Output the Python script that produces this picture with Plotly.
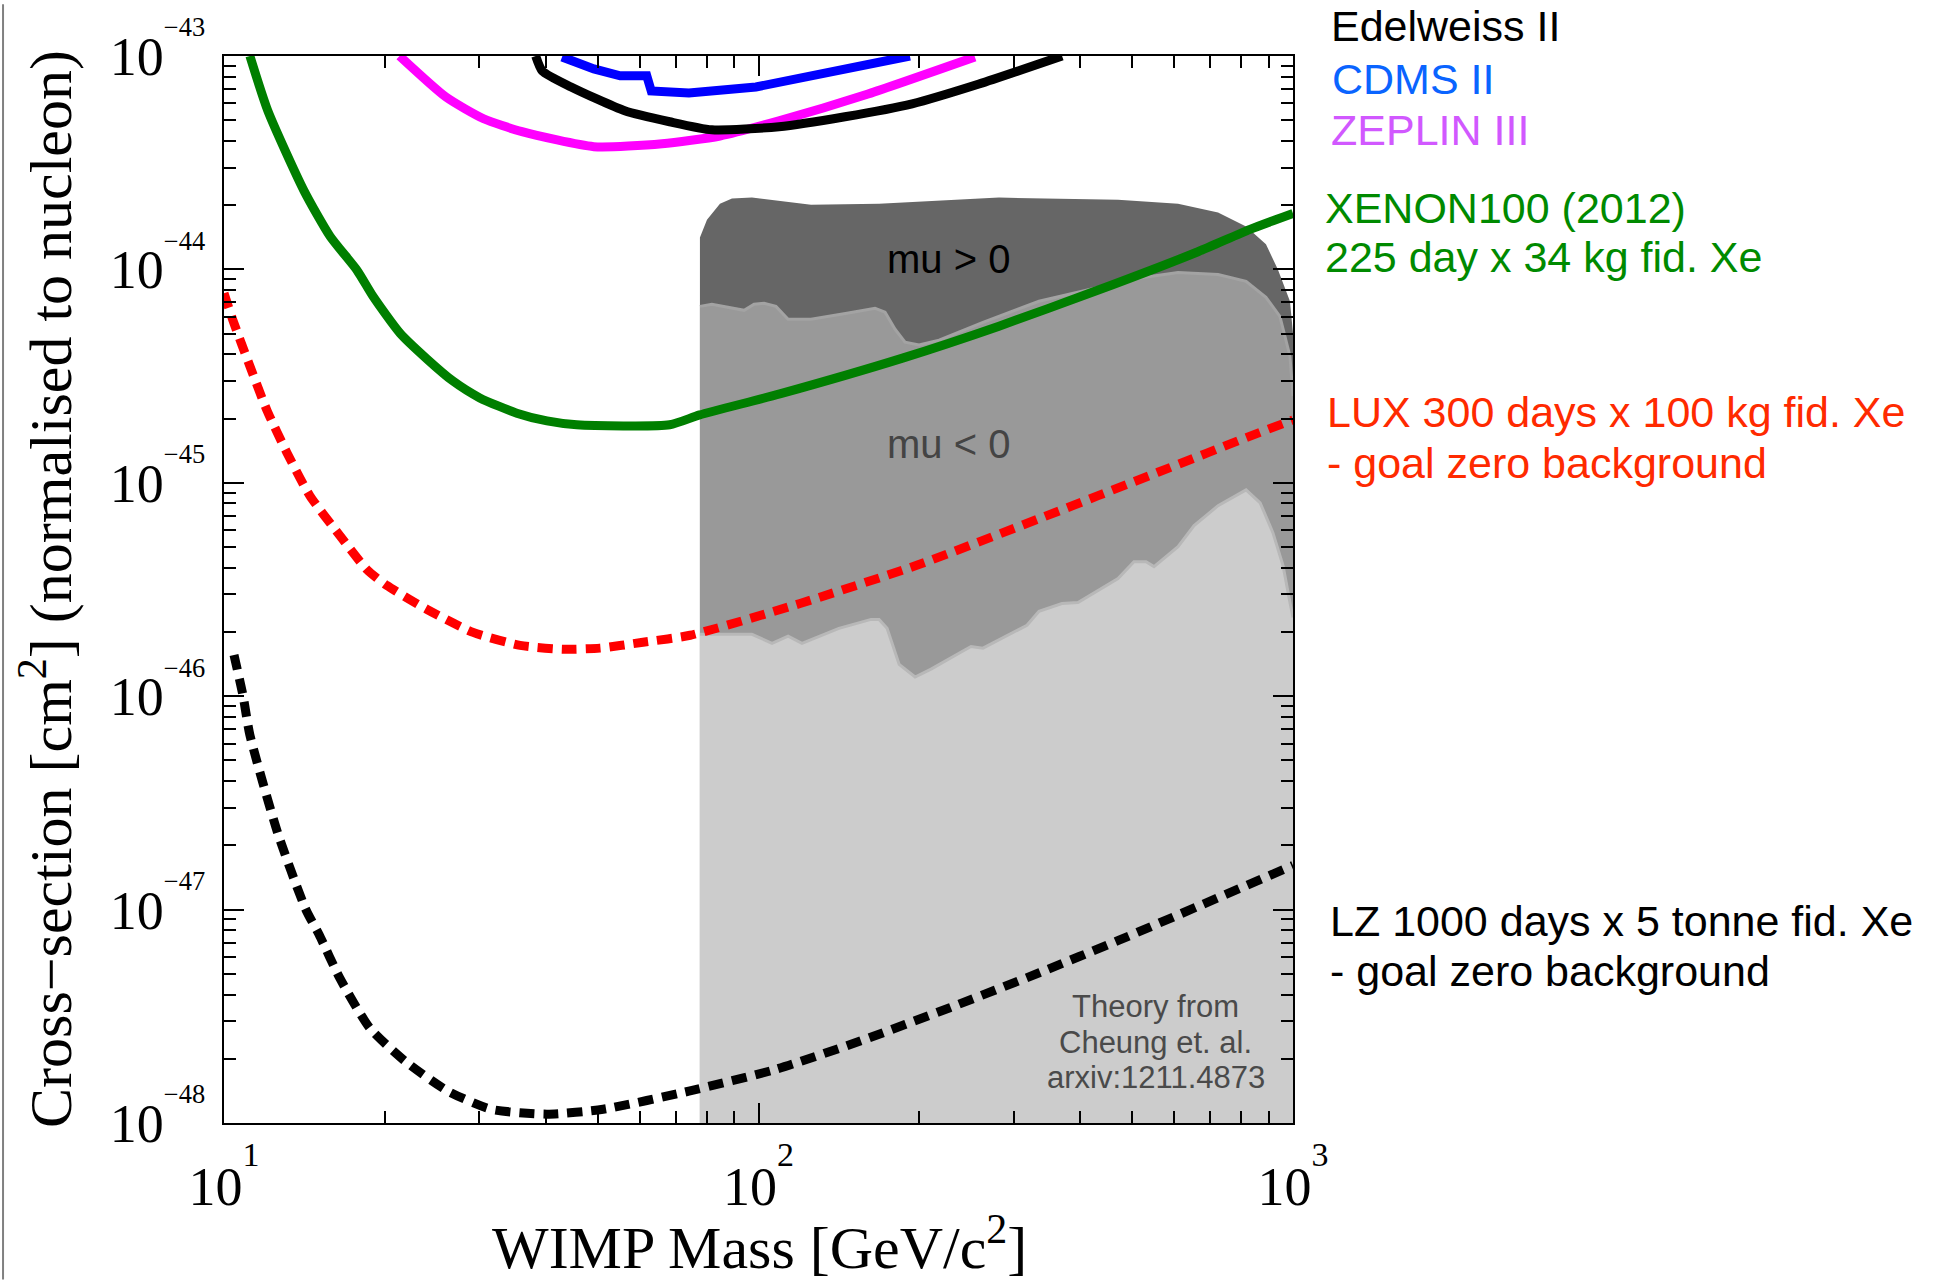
import plotly.graph_objects as go

# ---------------- data (WIMP mass in GeV/c^2, cross-section in cm^2) ----------------
MASS_EDELWEISS = [38.3, 39.4, 44.6, 56.2, 68.2, 81.8, 109.2, 145.1, 193.8, 258.5, 369.8]
SIGMA_EDELWEISS = [1.0e-43, 8.51e-44, 7.16e-44, 5.54e-44, 4.92e-44, 4.51e-44, 4.66e-44,
                   5.19e-44, 5.97e-44, 7.39e-44, 1.0e-43]

MASS_CDMS = [42.9, 49.2, 55.1, 61.8, 63.0, 74.1, 98.9, 132.0, 160.3, 192.0]
SIGMA_CDMS = [9.9e-44, 8.7e-44, 8.07e-44, 8.07e-44, 6.86e-44, 6.71e-44, 7.16e-44,
              8.24e-44, 9.18e-44, 1.0e-43]

MASS_ZEPLIN = [21.3, 26.0, 30.6, 36.1, 49.2, 66.0, 84.7, 109.2, 160.3, 254.0]
SIGMA_ZEPLIN = [1.0e-43, 6.43e-44, 5.08e-44, 4.42e-44, 3.76e-44, 3.88e-44, 4.22e-44,
                4.97e-44, 6.64e-44, 9.9e-44]

MASS_XENON = [11.18, 12.08, 14.11, 15.79, 17.74, 19.0, 21.35, 23.98, 26.8, 30.1, 35.3,
              40.2, 45.7, 68.2, 77.6, 109.6, 186.0, 281.8, 431.0, 664.0, 831.0, 1000.0]
SIGMA_XENON = [1.0e-43, 5.53e-44, 2.34e-44, 1.43e-44, 9.9e-45, 7.48e-45, 5.02e-45,
               3.8e-45, 3.0e-45, 2.5e-45, 2.12e-45, 1.95e-45, 1.87e-45, 1.87e-45,
               2.08e-45, 2.61e-45, 3.84e-45, 5.42e-45, 7.98e-45, 1.21e-44, 1.54e-44, 1.83e-44]

MASS_LUX = [10.0, 10.39, 11.18, 12.03, 13.12, 14.48, 16.48, 18.51, 20.18, 23.99, 29.25,
            35.8, 43.1, 50.5, 60.8, 74.5, 119.6, 199.5, 334.8, 558.8, 860.0, 1000.0]
SIGMA_LUX = [7.73e-45, 5.78e-45, 3.52e-45, 2.19e-45, 1.38e-45, 8.69e-46, 5.65e-46,
             3.92e-46, 3.30e-46, 2.55e-46, 1.99e-46, 1.73e-46, 1.66e-46, 1.68e-46,
             1.79e-46, 1.93e-46, 2.72e-46, 4.14e-46, 6.79e-46, 1.12e-45, 1.71e-45, 1.97e-45]

MASS_LZ = [10.44, 10.85, 11.18, 12.62, 14.23, 15.06, 16.48, 18.75, 21.81, 26.24, 31.6,
           40.2, 51.2, 74.1, 107.4, 155.6, 228.0, 336.0, 472.6, 664.0, 1000.0]
SIGMA_LZ = [1.56e-46, 1.01e-46, 6.58e-47, 2.26e-47, 1.0e-47, 7.64e-48, 4.76e-48,
            2.78e-48, 1.95e-48, 1.41e-48, 1.16e-48, 1.10e-48, 1.16e-48, 1.41e-48,
            1.78e-48, 2.43e-48, 3.47e-48, 5.07e-48, 7.19e-48, 1.035e-47, 1.61e-47]

# theory regions (Cheung et al.) - upper boundaries
MASS_MU_POS = [77.7, 80.1, 84.7, 89.2, 97.2, 125.4, 168.1, 281.8, 470.6, 609.4, 724.0,
               817.0, 890.0, 937.0, 987.0, 1000.0]
SIGMA_MU_POS = [1.41e-44, 1.71e-44, 2.03e-44, 2.15e-44, 2.17e-44, 2.01e-44, 2.03e-44,
                2.17e-44, 2.12e-44, 2.03e-44, 1.85e-44, 1.59e-44, 1.31e-44, 1.0e-44,
                7.09e-45, 5.02e-45]

MASS_MU_NEG = [77.7, 81.8, 94.0, 98.1, 102.4, 107.8, 113.6, 125.4, 146.4, 165.2, 172.5,
               180.1, 188.0, 199.7, 217.7, 263.0, 334.8, 431.7, 512.9, 609.4, 724.0,
               817.0, 890.0, 945.0, 987.0, 1000.0]
SIGMA_MU_NEG = [6.71e-45, 6.86e-45, 6.43e-45, 6.86e-45, 6.94e-45, 6.71e-45, 5.84e-45,
                5.84e-45, 6.23e-45, 6.57e-45, 6.30e-45, 5.24e-45, 4.56e-45, 4.42e-45,
                4.66e-45, 5.65e-45, 7.09e-45, 8.24e-45, 9.08e-45, 9.68e-45, 9.47e-45,
                8.79e-45, 7.40e-45, 6.03e-45, 3.92e-45, 2.55e-45]

MASS_LOW = [77.7, 97.2, 106.0, 113.6, 120.6, 141.4, 162.4, 168.1, 174.0, 183.3, 196.3,
            210.3, 237.2, 249.8, 263.0, 317.9, 334.8, 369.6, 396.0, 470.6, 504.0, 530.9,
            549.5, 609.4, 653.0, 724.0, 817.0, 868.0, 917.0, 958.0, 987.0, 1000.0]
SIGMA_LOW = [1.95e-46, 1.95e-46, 1.77e-46, 1.91e-46, 1.77e-46, 2.08e-46, 2.29e-46,
             2.29e-46, 2.08e-46, 1.41e-46, 1.23e-46, 1.34e-46, 1.59e-46, 1.71e-46,
             1.68e-46, 2.15e-46, 2.50e-46, 2.72e-46, 2.75e-46, 3.56e-46, 4.27e-46,
             4.27e-46, 4.05e-46, 5.02e-46, 6.30e-46, 7.81e-46, 9.27e-46, 8.06e-46,
             5.84e-46, 4.09e-46, 2.75e-46, 2.34e-46]

FLOOR = 1e-49  # below the axis range, closes the shaded regions

X_TICKS = [10, 100, 1000]
X_TICK_EXP = ["1", "2", "3"]
Y_TICKS = [1e-48, 1e-47, 1e-46, 1e-45, 1e-44, 1e-43]
Y_TICK_EXP = ["−48", "−47", "−46", "−45", "−44", "−43"]

SERIF = "Liberation Serif"
SANS = "Liberation Sans"

fig = go.Figure()


def region(mass, sigma, fill, edge):
    fig.add_trace(go.Scatter(
        x=[mass[0]] + list(mass) + [mass[-1]],
        y=[FLOOR] + list(sigma) + [FLOOR],
        mode="lines", fill="toself", fillcolor=fill,
        line=dict(width=0), hoverinfo="skip", showlegend=False))
    if edge:
        fig.add_trace(go.Scatter(x=mass, y=sigma, mode="lines",
                                 line=dict(color=edge, width=3),
                                 hoverinfo="skip", showlegend=False))


region(MASS_MU_POS, SIGMA_MU_POS, "#666666", None)
region(MASS_MU_NEG, SIGMA_MU_NEG, "#999999", "#a3a3a3")
region(MASS_LOW, SIGMA_LOW, "#cccccc", "#b8b8b8")


def curve(mass, sigma, color, dash="solid", shape="spline"):
    fig.add_trace(go.Scatter(
        x=mass, y=sigma, mode="lines",
        line=dict(color=color, width=9, dash=dash, shape=shape,
                  smoothing=0.6 if shape == "spline" else None),
        hoverinfo="skip", showlegend=False))


curve(MASS_ZEPLIN, SIGMA_ZEPLIN, "#ff00ff")
curve(MASS_EDELWEISS, SIGMA_EDELWEISS, "#000000")
curve(MASS_CDMS, SIGMA_CDMS, "#0000ff", shape="linear")
curve(MASS_XENON, SIGMA_XENON, "#007f00")
curve(MASS_LUX, SIGMA_LUX, "#ff0000", dash="15px,9px")
curve(MASS_LZ, SIGMA_LZ, "#000000", dash="15px,9px")

axis_common = dict(
    type="log", showline=True, linecolor="black", linewidth=2, mirror="ticks",
    ticks="inside", ticklen=20, tickwidth=1.5, tickcolor="black",
    showgrid=False, zeroline=False, tickmode="array",
    tickfont=dict(family=SERIF, size=54, color="black"),
    minor=dict(ticks="inside", ticklen=12, tickwidth=1.5, tickcolor="black",
               dtick="D1", showgrid=False),
)

fig.update_xaxes(
    range=[1, 3], tickvals=X_TICKS,
    ticktext=[f"10<sup><sup><span style='font-size:34px'>{e}</span></sup></sup>" for e in X_TICK_EXP],
    ticklabelstandoff=15, **axis_common)
fig.update_yaxes(
    range=[-48, -43], tickvals=Y_TICKS,
    ticktext=[f"10<sup><sup>{e}</sup></sup>" for e in Y_TICK_EXP],
    ticklabelstandoff=6, **axis_common)

annotations = [
    # axis titles
    dict(text="WIMP Mass [GeV/c<sup>2</sup>]", x=0.5014, y=-0.150, xanchor="center",
         yanchor="bottom", font=dict(family=SERIF, size=60, color="black")),
    dict(text="Cross−section [cm<sup>2</sup>] (normalised to nucleon)", x=-0.1656, y=0.5005,
         xanchor="center", yanchor="middle", textangle=-90,
         font=dict(family=SERIF, size=60, color="black")),
    # in-plot labels
    dict(text="mu > 0", x=0.6773, y=0.8095, font=dict(family=SANS, size=40, color="#000000")),
    dict(text="mu < 0", x=0.6773, y=0.6359, font=dict(family=SANS, size=40, color="#444444")),
    dict(text="Theory from", x=0.8718, y=0.1092, font=dict(family=SANS, size=31, color="#4a4a4a")),
    dict(text="Cheung et. al.", x=0.8718, y=0.0756, font=dict(family=SANS, size=31, color="#4a4a4a")),
    dict(text="arxiv:1211.4873", x=0.8718, y=0.0430, font=dict(family=SANS, size=31, color="#4a4a4a")),
    # experiment labels (right of plot)
    dict(text="Edelweiss II", x=1.0337, y=1.0284, xanchor="left", font=dict(family=SANS, size=43, color="#000000")),
    dict(text="CDMS II", x=1.0346, y=0.9789, xanchor="left", font=dict(family=SANS, size=43, color="#0a64ff")),
    dict(text="ZEPLIN III", x=1.0337, y=0.9304, xanchor="left", font=dict(family=SANS, size=43, color="#d158ff")),
    dict(text="XENON100 (2012)", x=1.0281, y=0.8575, xanchor="left", font=dict(family=SANS, size=43, color="#008a00")),
    dict(text="225 day x 34 kg fid. Xe", x=1.0281, y=0.8114, xanchor="left", font=dict(family=SANS, size=43, color="#008a00")),
    dict(text="LUX 300 days x 100 kg fid. Xe", x=1.0299, y=0.6661, xanchor="left", font=dict(family=SANS, size=43, color="#ff2a00")),
    dict(text="- goal zero background", x=1.0299, y=0.6181, xanchor="left", font=dict(family=SANS, size=43, color="#ff2a00")),
    dict(text="LZ 1000 days x 5 tonne fid. Xe", x=1.0328, y=0.1895, xanchor="left", font=dict(family=SANS, size=43, color="#000000")),
    dict(text="- goal zero background", x=1.0328, y=0.1429, xanchor="left", font=dict(family=SANS, size=43, color="#000000")),
]
for a in annotations:
    a.setdefault("xanchor", "center")
    a.setdefault("yanchor", "middle")
    a.update(xref="paper", yref="paper", showarrow=False)

fig.update_layout(
    width=1950, height=1280,
    margin=dict(l=224, r=657, t=52, b=157),
    paper_bgcolor="white", plot_bgcolor="white",
    showlegend=False,
    annotations=annotations,
    shapes=[dict(type="line", xref="paper", yref="paper", x0=-0.2067, x1=-0.2067,
                 y0=1.0486, y1=-0.1466, line=dict(color="#808080", width=2))],
)

fig.write_html("out.html")
